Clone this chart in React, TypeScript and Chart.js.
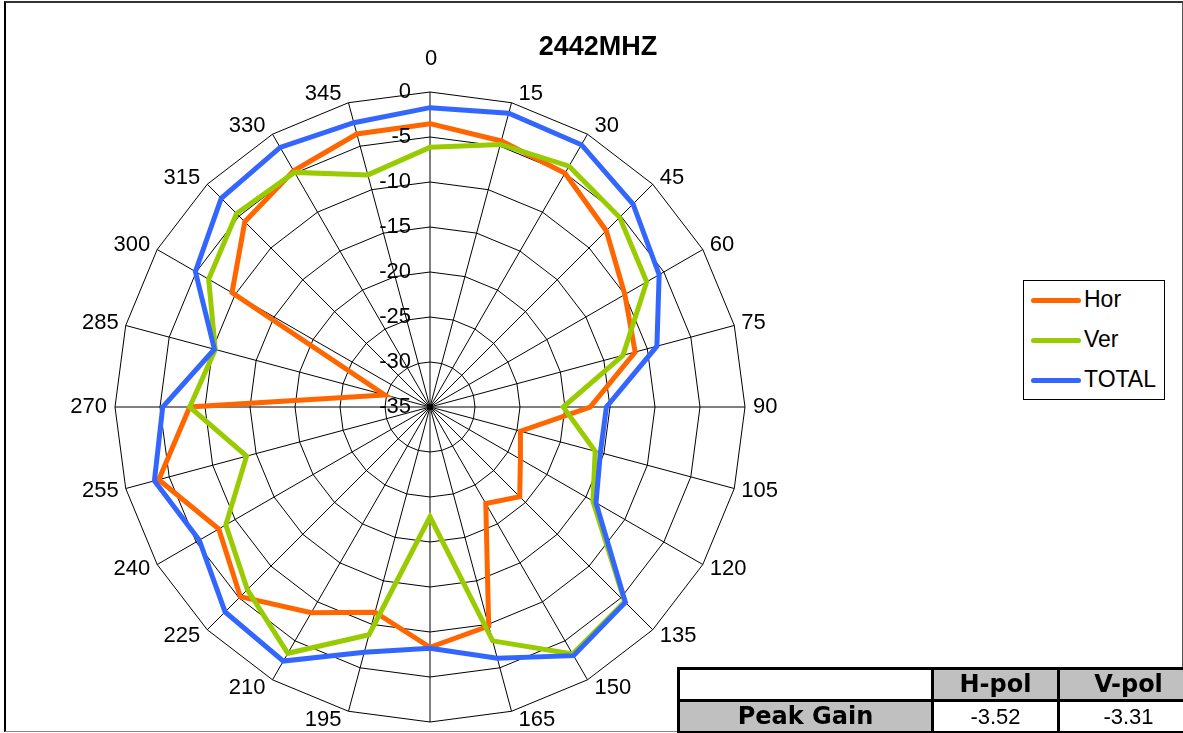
import React, { useEffect, useRef } from "react";
import { Chart, registerables } from "chart.js";

Chart.register(...registerables);

// ---- data ----
const angleLabels = [
  "0", "15", "30", "45", "60", "75", "90", "105", "120", "135", "150", "165",
  "180", "195", "210", "225", "240", "255", "270", "285", "300", "315", "330", "345",
];
const horValues = [
  -3.52, -4.4, -5.0, -7.3, -10.0, -11.4, -17.2, -24.6, -23.4, -20.9, -22.6, -9.8,
  -8.3, -11.4, -8.6, -5.2, -7.9, -3.8, -8.3, -29.8, -9.6, -5.9, -4.7, -3.6,
];
const verValues = [
  -6.15, -4.8, -4.1, -5.2, -7.2, -12.8, -20.2, -16.0, -14.1, -4.4, -3.31, -8.1,
  -22.8, -8.8, -3.4, -6.3, -8.8, -13.9, -8.3, -10.3, -6.6, -4.6, -4.9, -8.3,
];
const totalValues = [
  -1.74, -1.2, -1.35, -3.1, -5.6, -8.9, -15.4, -15.4, -13.7, -4.3, -3.1, -6.1,
  -8.2, -6.8, -2.4, -2.8, -5.4, -3.3, -5.3, -10.2, -4.9, -2.2, -1.7, -2.3,
];
const tickValues = [0, -5, -10, -15, -20, -25, -30, -35];
const seriesNames = ["Hor", "Ver", "TOTAL"];
const seriesColors = ["#FF6600", "#99CC00", "#3366FF"];
const titleText = "2442MHZ";
const tableHeader = ["", "H-pol", "V-pol"];
const tableRow = ["Peak Gain", "-3.52", "-3.31"];

const FONT = '"Liberation Sans", Arial, sans-serif';

const labelPlugin = {
  id: "excelLabels",
  afterDraw(chart: any) {
    const scale = chart.scales.r;
    const ctx = chart.ctx;
    const R = scale.drawingArea;
    ctx.save();
    ctx.fillStyle = "#000";
    ctx.font = "22px " + FONT;
    // radial tick labels
    ctx.textAlign = "right";
    ctx.textBaseline = "middle";
    tickValues.forEach((v) => {
      const d = scale.getDistanceFromCenterForValue(v);
      ctx.fillText(String(v), scale.xCenter - 19, scale.yCenter - d);
    });
    // angle labels
    angleLabels.forEach((lab, i) => {
      const p = scale.getPointPosition(i, R);
      const a = (i * 360) / angleLabels.length * Math.PI / 180;
      const s = Math.sin(a);
      const c = Math.cos(a);
      if (Math.abs(s) < 1e-6) {
        ctx.textAlign = "center";
        ctx.textBaseline = "middle";
        ctx.fillText(lab, p.x + 1, c > 0 ? p.y - 33 : p.y + 22);
      } else {
        ctx.textAlign = s > 0 ? "left" : "right";
        ctx.textBaseline = "middle";
        const pad = Math.abs(c) < 1e-6 ? 8 : 7;
        ctx.fillText(lab, p.x + (s > 0 ? pad : -pad), p.y - 9 * c);
      }
    });
    ctx.restore();
  },
};

export default function App() {
  const canvasRef = useRef<HTMLCanvasElement | null>(null);

  useEffect(() => {
    const canvas = canvasRef.current;
    if (!canvas) return;
    const valuesList = [horValues, verValues, totalValues];
    const chart = new Chart(canvas, {
      type: "radar",
      data: {
        labels: angleLabels,
        datasets: seriesNames.map((name, k) => ({
          label: name,
          data: valuesList[k],
          borderColor: seriesColors[k],
          backgroundColor: seriesColors[k],
          borderWidth: 5,
          pointRadius: 0,
          pointHoverRadius: 0,
          pointHitRadius: 0,
          fill: false,
          tension: 0,
          order: 2 - k,
        })),
      },
      options: {
        responsive: false,
        animation: false,
        devicePixelRatio: 1,
        layout: { padding: { left: 115, right: 438, top: 92, bottom: 11 } },
        plugins: {
          legend: { display: false },
          title: { display: false },
          tooltip: { enabled: false },
        },
        scales: {
          r: {
            min: -35,
            max: 0,
            startAngle: 0,
            ticks: { stepSize: 5, display: false },
            pointLabels: { display: false },
            grid: { color: "#000", lineWidth: 1 },
            angleLines: { color: "#000", lineWidth: 1 },
          },
        },
      },
      plugins: [labelPlugin],
    } as any);
    return () => chart.destroy();
  }, []);

  const cellBase: React.CSSProperties = {
    border: "3px solid #000",
    height: 29,
    padding: 0,
    textAlign: "center",
    verticalAlign: "middle",
    lineHeight: "29px",
  };
  const boldCell: React.CSSProperties = {
    ...cellBase,
    background: "#C0C0C0",
    fontFamily: '"DejaVu Sans", Verdana, sans-serif',
    fontWeight: "bold",
    fontSize: 24,
  };
  const valueCell: React.CSSProperties = {
    ...cellBase,
    background: "#fff",
    fontFamily: FONT,
    fontSize: 22,
  };

  return (
    <div
      style={{
        position: "fixed",
        left: 0,
        top: 0,
        width: 1183,
        height: 733,
        background: "#fff",
        overflow: "hidden",
      }}
    >
      <div
        style={{
          position: "absolute",
          left: 4,
          top: 1,
          width: 1176,
          height: 728,
          borderLeft: "2px solid #000",
          borderTop: "2px solid #333",
          borderRight: "1px solid #555",
          borderBottom: "1px solid #888",
        }}
      />
      <canvas
        ref={canvasRef}
        width={1183}
        height={733}
        style={{ position: "absolute", left: 0, top: 0, width: 1183, height: 733 }}
      />
      <div
        style={{
          position: "absolute",
          left: 498,
          top: 30,
          width: 200,
          textAlign: "center",
          fontFamily: FONT,
          fontWeight: "bold",
          fontSize: 27,
          lineHeight: "32px",
        }}
      >
        {titleText}
      </div>
      <div
        style={{
          position: "absolute",
          left: 1023,
          top: 280,
          width: 140,
          height: 118,
          border: "1px solid #000",
          background: "#fff",
        }}
      >
        {seriesNames.map((name, k) => (
          <div
            key={name}
            style={{ position: "absolute", left: 0, top: 3 + k * 40, height: 32, width: 140 }}
          >
            <div
              style={{
                position: "absolute",
                left: 7,
                top: 14,
                width: 50,
                height: 5,
                borderRadius: 3,
                background: seriesColors[k],
              }}
            />
            <div
              style={{
                position: "absolute",
                left: 60,
                top: 1,
                fontFamily: FONT,
                fontSize: 23,
                lineHeight: "28px",
                color: "#000",
              }}
            >
              {name}
            </div>
          </div>
        ))}
      </div>
      <table
        style={{
          position: "absolute",
          left: 677,
          top: 667,
          borderCollapse: "collapse",
          tableLayout: "fixed",
          width: 520,
        }}
      >
        <colgroup>
          <col style={{ width: 254 }} />
          <col style={{ width: 126 }} />
          <col style={{ width: 140 }} />
        </colgroup>
        <tbody>
          <tr>
            {tableHeader.map((h, i) => (
              <td key={i} style={i === 0 ? { ...valueCell } : boldCell}>
                {h}
              </td>
            ))}
          </tr>
          <tr>
            {tableRow.map((h, i) => (
              <td key={i} style={i === 0 ? boldCell : valueCell}>
                {h}
              </td>
            ))}
          </tr>
        </tbody>
      </table>
    </div>
  );
}
